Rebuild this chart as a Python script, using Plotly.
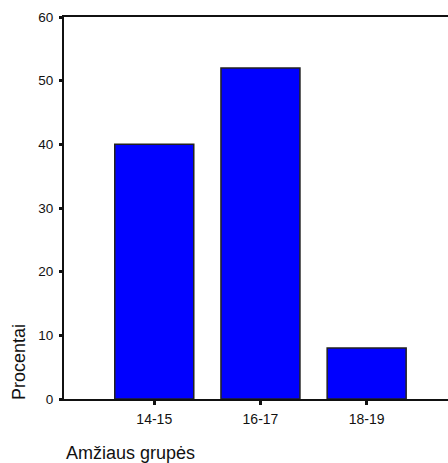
import plotly.graph_objects as go

categories = ["14-15", "16-17", "18-19"]
percent = [40, 52, 8]
y_ticks = [0, 10, 20, 30, 40, 50, 60]

W, H = 448, 463
L, R, T = 64, 0, 17
B = H - 399
pw = W - L - R
ph = H - T - B

fig = go.Figure()
fig.add_trace(go.Bar(
    x=categories, y=percent,
    marker=dict(color="#0000FF", line=dict(color="#222222", width=1.5)),
))

font_family = "Liberation Sans, Arial, sans-serif"


def px(xabs):
    return (xabs - L) / pw


def py(yabs):
    return (H - B - yabs) / ph


fig.update_layout(
    width=W, height=H,
    margin=dict(l=L, r=R, t=T, b=B, pad=0),
    paper_bgcolor="white", plot_bgcolor="white",
    bargap=0.256,
    showlegend=False,
    font=dict(family=font_family, color="#111111", size=14),
    xaxis=dict(
        type="category", range=[-0.85, 2.766],
        showline=True, linecolor="#111111", linewidth=2, mirror=True,
        ticks="outside", ticklen=4, tickwidth=3, tickcolor="#111111",
        showgrid=False, zeroline=False,
        tickfont=dict(size=14, family=font_family, color="#111111"),
        ticklabelstandoff=2,
    ),
    yaxis=dict(
        range=[0, 60], tickvals=y_ticks,
        showline=True, linecolor="#111111", linewidth=2, mirror=False,
        ticks="outside", ticklen=3, tickwidth=3, tickcolor="#111111",
        showgrid=False, zeroline=False,
        tickfont=dict(size=13.5, family=font_family, color="#111111"),
        ticklabelstandoff=3,
    ),
    annotations=[
        dict(text="Procentai", xref="paper", yref="paper",
             x=px(19), y=py(362),
             xanchor="center", yanchor="middle", textangle=-90,
             showarrow=False, font=dict(size=18, family=font_family, color="#111111")),
        dict(text="Amžiaus grupės", xref="paper", yref="paper",
             x=px(64), y=py(453),
             xanchor="left", yanchor="middle",
             showarrow=False, font=dict(size=18, family=font_family, color="#111111")),
    ],
)

fig.write_html(
    "out.html",
    config={"displayModeBar": False},
    post_script="document.body.style.margin='0';document.body.style.overflow='hidden';",
)
